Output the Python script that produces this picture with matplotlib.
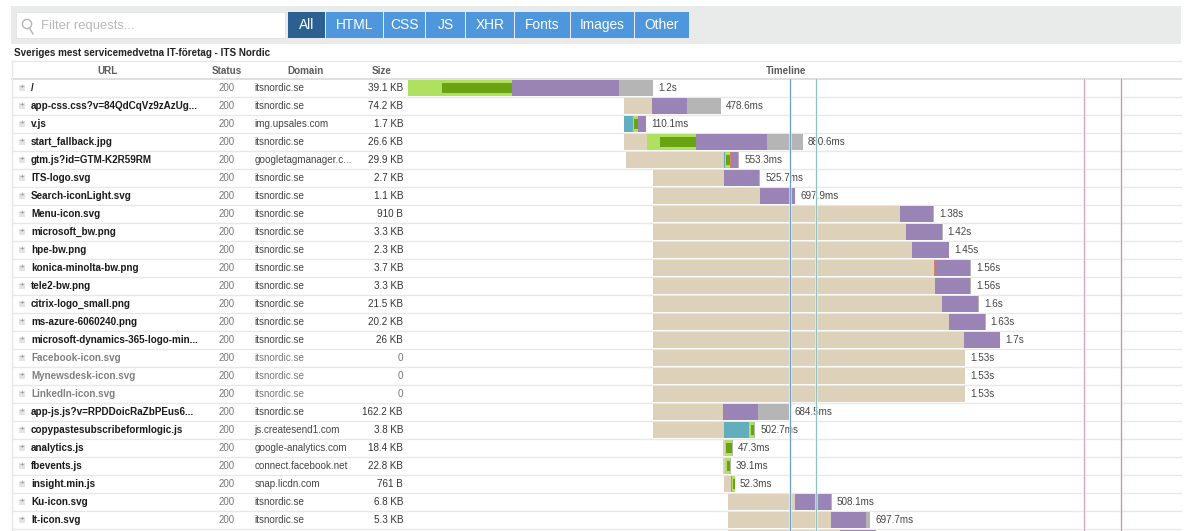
# Waterfall view of page requests, browser style
import matplotlib
matplotlib.use('Agg')
import matplotlib.pyplot as plt
from matplotlib.patches import Rectangle

plt.rcParams['font.family'] = ['Liberation Sans', 'DejaVu Sans']

W, H = 1191, 531
PX_PER_MS = 0.204

tabs = ['All', 'HTML', 'CSS', 'JS', 'XHR', 'Fonts', 'Images', 'Other']
page_title = 'Sveriges mest servicemedvetna IT-företag - ITS Nordic'

urls = ['/', 'app-css.css?v=84QdCqVz9zAzUg...', 'v.js', 'start_fallback.jpg',
        'gtm.js?id=GTM-K2R59RM', 'ITS-logo.svg', 'Search-iconLight.svg', 'Menu-icon.svg',
        'microsoft_bw.png', 'hpe-bw.png', 'konica-minolta-bw.png', 'tele2-bw.png',
        'citrix-logo_small.png', 'ms-azure-6060240.png', 'microsoft-dynamics-365-logo-min...',
        'Facebook-icon.svg', 'Mynewsdesk-icon.svg', 'LinkedIn-icon.svg',
        'app-js.js?v=RPDDoicRaZbPEus6...', 'copypastesubscribeformlogic.js', 'analytics.js',
        'fbevents.js', 'insight.min.js', 'Ku-icon.svg', 'It-icon.svg', '']
domains = ['itsnordic.se', 'itsnordic.se', 'img.upsales.com', 'itsnordic.se',
           'googletagmanager.c...', 'itsnordic.se', 'itsnordic.se', 'itsnordic.se',
           'itsnordic.se', 'itsnordic.se', 'itsnordic.se', 'itsnordic.se',
           'itsnordic.se', 'itsnordic.se', 'itsnordic.se', 'itsnordic.se',
           'itsnordic.se', 'itsnordic.se', 'itsnordic.se', 'js.createsend1.com',
           'google-analytics.com', 'connect.facebook.net', 'snap.licdn.com',
           'itsnordic.se', 'itsnordic.se', '']
sizes = ['39.1 KB', '74.2 KB', '1.7 KB', '26.6 KB', '29.9 KB', '2.7 KB', '1.1 KB', '910 B',
         '3.3 KB', '2.3 KB', '3.7 KB', '3.3 KB', '21.5 KB', '20.2 KB', '26 KB', '0', '0', '0',
         '162.2 KB', '3.8 KB', '18.4 KB', '22.8 KB', '761 B', '6.8 KB', '5.3 KB', '']
totals = ['1.2s', '478.6ms', '110.1ms', '880.6ms', '553.3ms', '525.7ms', '697.9ms', '1.38s',
          '1.42s', '1.45s', '1.56s', '1.56s', '1.6s', '1.63s', '1.7s', '1.53s', '1.53s', '1.53s',
          '684.5ms', '502.7ms', '47.3ms', '39.1ms', '52.3ms', '508.1ms', '697.7ms', '']
grey_rows = ['Facebook-icon.svg', 'Mynewsdesk-icon.svg', 'LinkedIn-icon.svg']

# timings in ms
start = [0, 1059, 1059, 1059, 1069, 1201, 1201, 1201, 1201, 1201, 1201, 1201, 1201, 1201, 1201,
         1201, 1201, 1201, 1201, 1201, 1544, 1544, 1549, 1569, 1569, 1569]
blocked = [0, 137, 2, 113, 480, 348, 525, 1211, 1240, 1270, 1377, 1382, 1417, 1451, 1525,
           1530, 1530, 1530, 343, 348, 10, 10, 34, 328, 505, 549]
dns = [0, 0, 44, 0, 5, 0, 0, 0, 0, 0, 0, 0, 0, 0, 0, 0, 0, 0, 0, 123, 0, 2, 3, 0, 0, 0]
connect = [510, 0, 20, 240, 25, 0, 0, 0, 0, 0, 0, 0, 0, 0, 0, 0, 0, 0, 0, 25, 32, 22, 15, 0, 0, 0]
ssl = [343, 0, 15, 176, 20, 0, 0, 0, 0, 0, 0, 0, 0, 0, 0, 0, 0, 0, 0, 15, 25, 15, 10, 0, 0, 0]
send = [0, 0, 0, 0, 5, 0, 0, 0, 0, 0, 5, 0, 0, 0, 0, 0, 0, 0, 0, 0, 0, 0, 0, 0, 0, 0]
wait = [525, 172, 44, 348, 34, 172, 172, 162, 176, 181, 172, 172, 176, 176, 176,
        0, 0, 0, 172, 0, 0, 0, 0, 176, 172, 176]
receive = [167, 167, 0, 176, 5, 5, 1, 5, 4, 0, 6, 6, 7, 3, 0, 0, 0, 0, 152, 5, 5, 5, 0, 4, 20, 0]

# page marks
mark_ms = [1873, 2000, 3316, 3495]
mark_colors = ['#6a9fca', '#90c0c0', '#d5a3c2', '#c78cae']

C_BLOCKED = '#ddd1b9'
C_DNS = '#62aebc'
C_CONNECT = '#b0e060'
C_SSL = '#6aa312'
C_SEND = '#d9815f'
C_WAIT = '#9a84b5'
C_RECEIVE = '#b5b5b5'
LINE = '#e8e8e8'

fig = plt.figure(figsize=(W / 100, H / 100), dpi=100)
bg = fig.add_axes([0, 0, 1, 1])
bg.set_xlim(0, W)
bg.set_ylim(H, 0)
bg.axis('off')

# toolbar
bg.add_patch(Rectangle((11, 6), 1170, 38, fc='#e9ebea', ec='none'))
bg.add_patch(Rectangle((16, 12), 269, 26, fc='white', ec='#dddddd', lw=0.5))
bg.add_patch(plt.Circle((27, 24), 4.6, fc='none', ec='#b5b5b5', lw=1))
bg.plot([29.5, 33], [28, 34], color='#b5b5b5', lw=1)
bg.text(41, 28.5, 'Filter requests...', fontsize=9.4, color='#b8b8b8', va='baseline')

tab_edges = [288, 326, 384, 426, 466, 515, 571, 635, 690]
for i, name in enumerate(tabs):
    x0, x1 = tab_edges[i], tab_edges[i + 1]
    bg.add_patch(Rectangle((x0, 12), x1 - x0 - 1, 26, fc='#2c5f92' if i == 0 else '#4f97dc', ec='none'))
    bg.text((x0 + x1 - 1) / 2, 29, name, color='white', fontsize=9.9, ha='center', va='baseline')

bg.text(14, 52.5, page_title, fontsize=7.1, fontweight='bold', color='#222222', va='center')

# table head
TOP = 79
ROW = 18
bg.plot([12, 1181], [61, 61], color=LINE, lw=1)
bg.plot([12, 1181], [79, 79], color='#dcdcdc', lw=1.3)
bg.plot([12, 12], [61, H], color=LINE, lw=1)
head_y = 70.5
for x, name in [(107, 'URL'), (227, 'Status'), (305, 'Domain'), (382, 'Size'), (786, 'Timeline')]:
    bg.text(x, head_y, name, fontsize=7.1, fontweight='bold', color='#5c5c5c', ha='center', va='center')

# rows of text
for i, url in enumerate(urls):
    y = TOP + ROW * i + 9
    bg.plot([12, 1181], [TOP + ROW * (i + 1)] * 2, color=LINE, lw=1)
    if url == '':
        continue
    muted = url in grey_rows
    bg.add_patch(Rectangle((19, y - 3), 6, 6, fc='#e4e4e4', ec='none'))
    bg.text(22, y - 0.3, '+', fontsize=5.5, color='#888888', ha='center', va='center')
    bg.text(31, y, url, fontsize=7.15, fontweight='bold', color='#808080' if muted else '#1a1a1a', va='center')
    bg.text(227, y, '200', fontsize=7, color='#777777', ha='center', va='center')
    bg.text(254.5, y, domains[i], fontsize=7.15, color='#777777' if muted else '#444444', va='center')
    bg.text(403, y, sizes[i], fontsize=7.1, color='#777777' if muted else '#333333', ha='right', va='center')

# timeline axes in ms, row index on y
ax = fig.add_axes([408 / W, 0, (1181 - 408) / W, (H - TOP) / H])
ax.set_xlim(0, (1181 - 408) / PX_PER_MS)
ax.set_ylim((H - TOP) / ROW, 0)
ax.axis('off')
ax.patch.set_alpha(0)

for i in range(len(urls)):
    left = start[i]
    for dur, col in [(blocked[i], C_BLOCKED), (dns[i], C_DNS), (connect[i], C_CONNECT),
                     (send[i], C_SEND), (wait[i], C_WAIT), (receive[i], C_RECEIVE)]:
        if dur > 0:
            ax.barh(i + 0.5, dur, left=left, height=0.94, color=col, lw=0)
        if col == C_CONNECT and ssl[i] > 0:
            ax.barh(i + 0.5, ssl[i], left=left + connect[i] - ssl[i], height=0.6, color=C_SSL, lw=0)
        left += dur
    ax.annotate(totals[i], (left, i + 0.5), xytext=(3.6, 0), textcoords='offset points',
                fontsize=7.1, color='#444444', va='center', annotation_clip=False)

for m, c in zip(mark_ms, mark_colors):
    ax.axvline(m, color='white', lw=2.2, alpha=0.6, zorder=4)
    ax.axvline(m, color=c, lw=0.9, zorder=5)

fig.savefig('out.png', dpi=100)
